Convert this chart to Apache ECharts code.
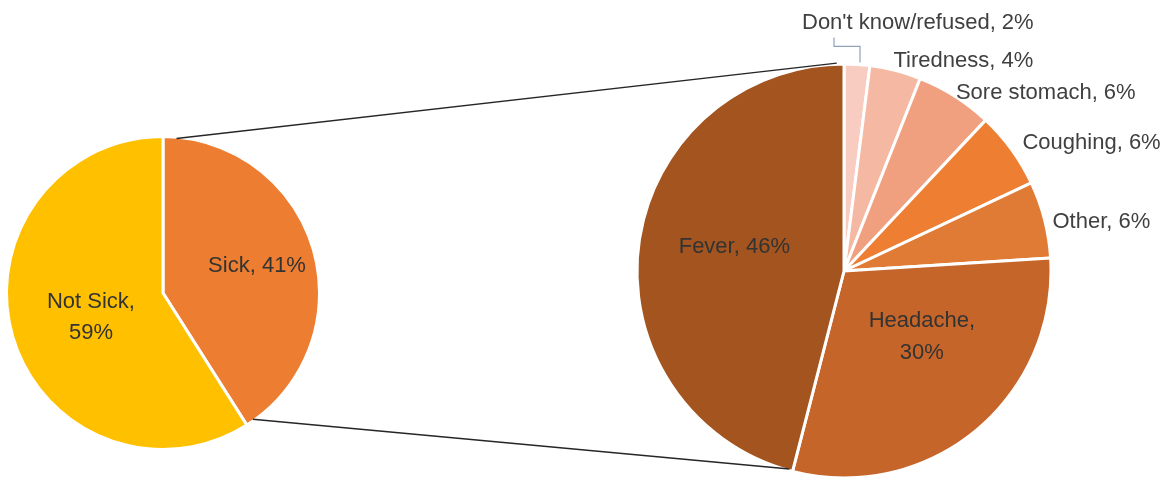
<!DOCTYPE html>
<html><head><meta charset="utf-8">
<script src="https://cdn.jsdelivr.net/npm/echarts@6/dist/echarts.min.js"></script>
<style>html,body{margin:0;padding:0;background:#fff}#c{width:1168px;height:480px}</style>
</head><body><div id="c"></div>
<script>
// ---- data ----
const mainCategories = ['Sick', 'Not Sick'];
const mainValues = [41, 59];
const detailCategories = ["Don't know/refused", 'Tiredness', 'Sore stomach', 'Coughing', 'Other', 'Headache', 'Fever'];
const detailValues = [2, 4, 6, 6, 6, 30, 46];

// ---- style ----
const mainColors = ['#ED7D31', '#FFC000'];
const detailColors = ['#F8CCC0', '#F5B9A3', '#F1A07F', '#EE7E32', '#E07B36', '#C5652A', '#A3541F'];
const wrapNames = ['Not Sick', 'Headache'];
const insideDetail = ['Headache', 'Fever'];
const labelOffsets = {
  'Sick': [16, -4], 'Not Sick': [6, 2],
  "Don't know/refused": [-55, -41], 'Tiredness': [-2, -10], 'Sore stomach': [1, -3],
  'Coughing': [11, -6], 'Other': [8, 2], 'Headache': [10, -16], 'Fever': [-4, -11]
};
const FONT = 'Liberation Sans';
const FS = 22;
const mainCenter = [163, 293], mainR = 156.5;
const detCenter = [844, 271], detR = 207;

function fmt(p) {
  const sep = wrapNames.indexOf(p.name) >= 0 ? ',\n' : ', ';
  return p.name + sep + p.value + '%';
}
function polar(c, r, deg) {
  const a = deg * Math.PI / 180;
  return [c[0] + r * Math.sin(a), c[1] - r * Math.cos(a)];
}
const mainSum = mainValues.reduce((a, b) => a + b, 0);
const detSum = detailValues.reduce((a, b) => a + b, 0);
const sickEnd = mainValues[0] / mainSum * 360;
const feverStart = detailValues.slice(0, -1).reduce((a, b) => a + b, 0) / detSum * 360;

const topA = polar(mainCenter, mainR - 1.5, 5), topB = polar(detCenter, detR + 1, -2);
const botA = polar(mainCenter, mainR - 1.5, sickEnd - 3), botB = polar(detCenter, detR - 1.5, feverStart + 1);

function layoutFn(p) {
  const name = p.seriesIndex === 0 ? mainCategories[p.dataIndex] : detailCategories[p.dataIndex];
  const o = labelOffsets[name] || [0, 0];
  const res = { dx: o[0], dy: o[1] };
  if (name === "Don't know/refused" && p.labelLinePoints) {
    const s = p.labelLinePoints[0];
    res.labelLinePoints = [[s[0] + 3, s[1] - 2], [s[0] + 3, s[1] - 18], [s[0] - 23, s[1] - 18], [s[0] - 23, s[1] - 27]];
  }
  return res;
}

const chart = echarts.init(document.getElementById('c'), null, { renderer: 'canvas' });
chart.setOption({
  backgroundColor: '#fff',
  animation: false,
  graphic: [
    { type: 'line', z: 100, shape: { x1: topA[0], y1: topA[1], x2: topB[0], y2: topB[1] }, style: { stroke: '#262626', lineWidth: 1.5 } },
    { type: 'line', z: 100, shape: { x1: botA[0], y1: botA[1], x2: botB[0], y2: botB[1] }, style: { stroke: '#262626', lineWidth: 1.5 } }
  ],
  series: [
    {
      type: 'pie', center: mainCenter, radius: mainR, startAngle: 90, clockwise: true,
      avoidLabelOverlap: false, silent: true,
      itemStyle: { borderColor: '#fff', borderWidth: 3 },
      label: { position: 'inside', formatter: fmt, color: '#333', fontFamily: FONT, fontSize: FS, lineHeight: 31 },
      labelLine: { show: false },
      labelLayout: layoutFn,
      data: mainCategories.map((n, i) => ({ name: n, value: mainValues[i], itemStyle: { color: mainColors[i] } }))
    },
    {
      type: 'pie', center: detCenter, radius: detR, startAngle: 90, clockwise: true,
      avoidLabelOverlap: false, silent: true,
      itemStyle: { borderColor: '#fff', borderWidth: 3 },
      label: { position: 'outside', formatter: fmt, color: '#404040', fontFamily: FONT, fontSize: FS, lineHeight: 32, distanceToLabelLine: 0 },
      labelLine: { show: false, length: 0, length2: 0 },
      labelLayout: layoutFn,
      data: detailCategories.map((n, i) => {
        const d = { name: n, value: detailValues[i], itemStyle: { color: detailColors[i] } };
        if (insideDetail.indexOf(n) >= 0) d.label = { position: 'inside', color: '#333' };
        if (i === 0) d.labelLine = { show: true, length: 0, length2: 0, lineStyle: { color: '#8EA4BC', width: 1.2 } };
        return d;
      })
    }
  ]
});
</script></body></html>
